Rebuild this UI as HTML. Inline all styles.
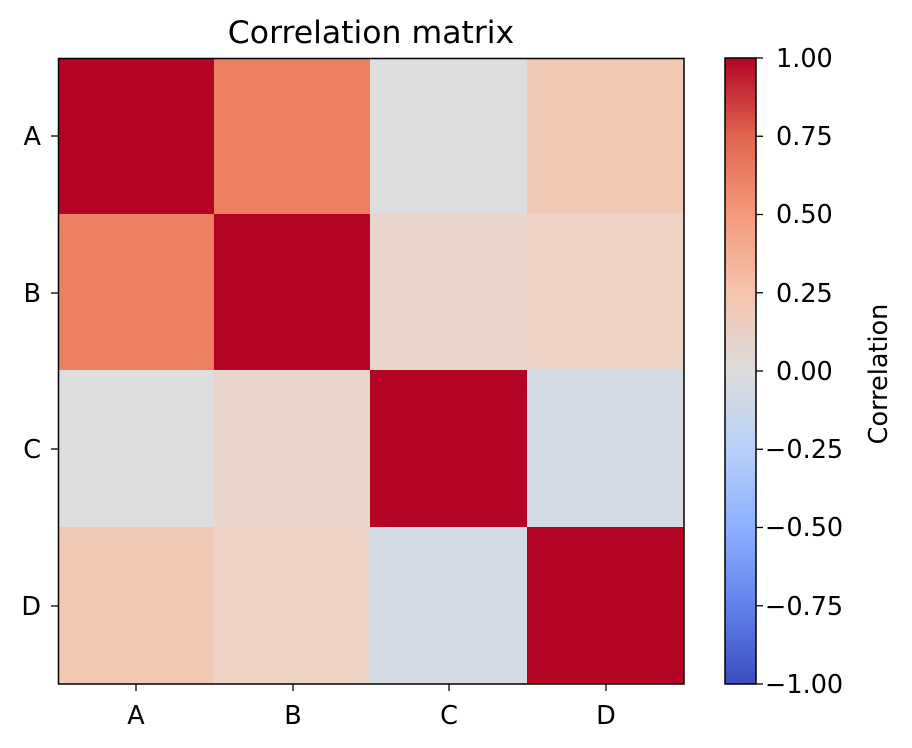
<!DOCTYPE html>
<html><head><meta charset="utf-8"><style>body{margin:0;background:#fff}svg{display:block}svg text{font-family:"DejaVu Sans","Liberation Sans",sans-serif;font-size:25.5px;fill:#000}svg text.t{font-size:31.5px}</style></head><body>
<svg width="912" height="748" xmlns="http://www.w3.org/2000/svg">
<defs><linearGradient id="cw" x1="0" y1="1" x2="0" y2="0">
<stop offset="0" stop-color="#3b4cc0"/><stop offset="0.125" stop-color="#6282ea"/><stop offset="0.25" stop-color="#8db0fe"/><stop offset="0.375" stop-color="#b8d0f9"/><stop offset="0.5" stop-color="#dddcdc"/><stop offset="0.625" stop-color="#f5c4ac"/><stop offset="0.75" stop-color="#f49a7b"/><stop offset="0.875" stop-color="#e0654f"/><stop offset="1" stop-color="#b40426"/></linearGradient></defs>
<rect x="58" y="58" width="157" height="157" fill="#b40426"/>
<rect x="214" y="58" width="157" height="157" fill="#ed7f63"/>
<rect x="370" y="58" width="157" height="157" fill="#dcdddf"/>
<rect x="527" y="58" width="157" height="157" fill="#f1c9b3"/>
<rect x="58" y="214" width="157" height="157" fill="#ed7f63"/>
<rect x="214" y="214" width="157" height="157" fill="#b40426"/>
<rect x="370" y="214" width="157" height="157" fill="#e8d6cb"/>
<rect x="527" y="214" width="157" height="157" fill="#ecd3c5"/>
<rect x="58" y="370" width="157" height="157" fill="#dcdddf"/>
<rect x="214" y="370" width="157" height="157" fill="#e8d6cb"/>
<rect x="370" y="370" width="157" height="157" fill="#b40426"/>
<rect x="527" y="370" width="157" height="157" fill="#d5dbe5"/>
<rect x="58" y="527" width="157" height="157" fill="#f1c9b3"/>
<rect x="214" y="527" width="157" height="157" fill="#ecd3c5"/>
<rect x="370" y="527" width="157" height="157" fill="#d5dbe5"/>
<rect x="527" y="527" width="157" height="157" fill="#b40426"/>
<rect x="58.5" y="58.5" width="625.5" height="625.5" fill="none" stroke="#000" stroke-width="1.5"/>
<g stroke="#000" stroke-width="1.3">
<line x1="136" y1="684" x2="136" y2="691"/><line x1="293" y1="684" x2="293" y2="691"/><line x1="449" y1="684" x2="449" y2="691"/><line x1="606" y1="684" x2="606" y2="691"/>
<line x1="58" y1="136" x2="51" y2="136"/><line x1="58" y1="293" x2="51" y2="293"/><line x1="58" y1="449" x2="51" y2="449"/><line x1="58" y1="606" x2="51" y2="606"/>
</g>
<g text-anchor="middle"><text x="136" y="724">A</text><text x="293" y="724">B</text><text x="449" y="724">C</text><text x="606" y="724">D</text></g>
<g text-anchor="end"><text x="41" y="145">A</text><text x="41" y="302">B</text><text x="41" y="458">C</text><text x="41" y="615">D</text></g>
<text class="t" x="371" y="43" text-anchor="middle">Correlation matrix</text>
<rect x="725" y="58" width="31" height="626" fill="url(#cw)" stroke="#000" stroke-width="1.5"/>
<g stroke="#000" stroke-width="1.3">
<line x1="756" y1="58" x2="763" y2="58"/><line x1="756" y1="136.25" x2="763" y2="136.25"/><line x1="756" y1="214.5" x2="763" y2="214.5"/><line x1="756" y1="292.75" x2="763" y2="292.75"/><line x1="756" y1="371" x2="763" y2="371"/><line x1="756" y1="449.25" x2="763" y2="449.25"/><line x1="756" y1="527.5" x2="763" y2="527.5"/><line x1="756" y1="605.75" x2="763" y2="605.75"/><line x1="756" y1="684" x2="763" y2="684"/>
</g>
<g>
<text x="776" y="67">1.00</text><text x="776" y="145">0.75</text><text x="776" y="223">0.50</text><text x="776" y="302">0.25</text><text x="776" y="380">0.00</text><text x="765" y="458">−0.25</text><text x="765" y="536">−0.50</text><text x="765" y="615">−0.75</text><text x="765" y="693">−1.00</text>
</g>
<text transform="translate(887,374) rotate(-90)" text-anchor="middle">Correlation</text>
</svg>
</body></html>
